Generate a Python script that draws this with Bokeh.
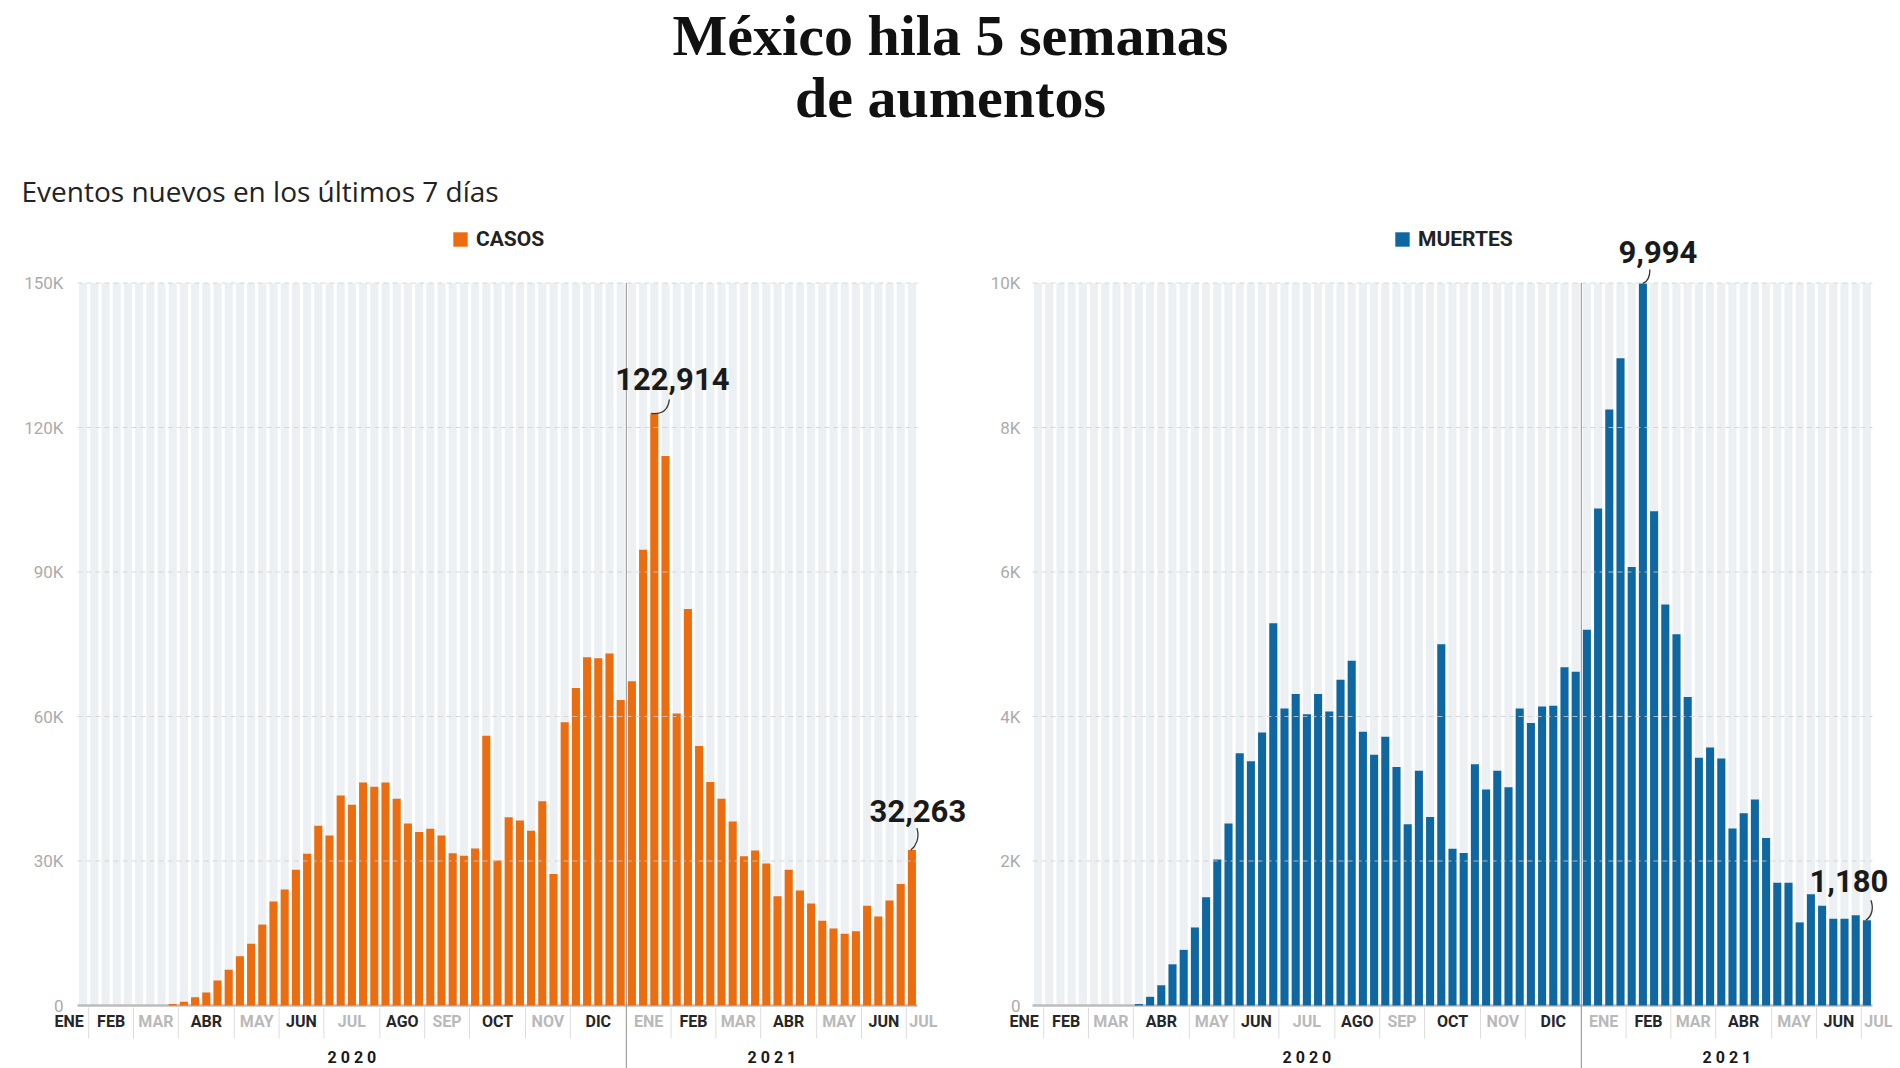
import numpy as np
from bokeh.plotting import figure
from bokeh.layouts import column, row
from bokeh.models import Range1d, LinearAxis, FixedTicker, Legend, LegendItem
from bokeh.core.properties import value
from bokeh.embed import file_html
from bokeh.resources import INLINE

# ---------------- data ----------------
title_lines = ["México hila 5 semanas", "de aumentos"]
subtitle = "Eventos nuevos en los últimos 7 días"

months_2020 = ["ENE", "FEB", "MAR", "ABR", "MAY", "JUN", "JUL", "AGO", "SEP", "OCT", "NOV", "DIC"]
weeks_2020 = [1, 4, 4, 5, 4, 4, 5, 4, 4, 5, 4, 5]
months_2021 = ["ENE", "FEB", "MAR", "ABR", "MAY", "JUN", "JUL"]
weeks_2021 = [4, 4, 4, 5, 4, 4, 1]
years = ["2020", "2021"]

casos = [0, 0, 0, 0, 0, 0, 0, 0, 300, 800, 1700, 2700, 5200, 7400, 10200, 12800,
         16800, 21600, 24100, 28200, 31500, 37300, 35300, 43600, 41700, 46300, 45400,
         46300, 42900, 37800, 36000, 36700, 35300, 31600, 31100, 32600, 56000, 30100,
         39100, 38400, 36300, 42400, 27300, 58800, 65900, 72300, 72100, 73100, 63400,
         67300, 94600, 122914, 114100, 60600, 82300, 53900, 46400, 42900, 38200, 31000,
         32200, 29500, 22700, 28200, 23900, 21200, 17600, 16000, 14900, 15400, 20700,
         18500, 21800, 25200, 32263]

muertes = [0, 0, 0, 0, 0, 0, 0, 0, 0, 20, 120, 280, 570, 770, 1080, 1500, 2020, 2520,
           3490, 3380, 3780, 5290, 4110, 4310, 4030, 4310, 4070, 4510, 4770, 3790, 3470,
           3720, 3300, 2510, 3250, 2610, 5000, 2170, 2110, 3340, 2990, 3250, 3020, 4110,
           3910, 4140, 4150, 4680, 4620, 5200, 6880, 8250, 8960, 6070, 9994, 6840, 5550,
           5140, 4270, 3430, 3570, 3420, 2450, 2660, 2850, 2320, 1700, 1700, 1150, 1540,
           1380, 1200, 1200, 1250, 1180]

casos_ticks = [0, 30000, 60000, 90000, 120000, 150000]
casos_tick_labels = ["0", "30K", "60K", "90K", "120K", "150K"]
muertes_ticks = [0, 2000, 4000, 6000, 8000, 10000]
muertes_tick_labels = ["0", "2K", "4K", "6K", "8K", "10K"]

# ---------------- layout constants (page pixels) ----------------
PAGE_W = 1900
HEAD_H = 215
CH_TOP = 215
CH_H = 853
CH_BOTTOM = CH_TOP + CH_H
Y0_PX = 1005.0
YTOP_PX = 282.5
WEEK_PX = 11.2
SEP_BOTTOM_PX = 1038
MONTH_LABEL_PX = 1021
YEAR_LABEL_TOP_PX = 1047
LEGEND_BOTTOM_PX = 251

FONT = "Roboto"
DARK = "#262626"
LIGHT = "#b9b9b9"
STRIPE = "#ECF0F3"


def make_chart(vals, ticks, tick_labels, color, fig_left, fig_w, frame_left, frame_right,
               x0_px, label_right_px, legend_label, legend_left_px, legend_standoff,
               peak_off, last_off, peak_leader, last_leader):
    vals = np.asarray(vals, dtype=float)
    n = len(vals)
    ymax = ticks[-1]
    ppu = (Y0_PX - YTOP_PX) / ymax
    y_start = -(CH_BOTTOM - Y0_PX) / ppu
    y_end = (Y0_PX - CH_TOP) / ppu
    x_start = (frame_left - x0_px) / WEEK_PX
    x_end = (frame_right - x0_px) / WEEK_PX

    def dy(px):
        return px / ppu

    def dx(px):
        return px / WEEK_PX

    def ypx(page_y):
        return (Y0_PX - page_y) / ppu

    p = figure(width=fig_w, height=CH_H, x_range=Range1d(x_start, x_end),
               y_range=Range1d(y_start, y_end), toolbar_location=None,
               output_backend="svg", x_axis_location=None, y_axis_location=None,
               min_border_left=frame_left - fig_left,
               min_border_right=fig_left + fig_w - frame_right,
               min_border_top=0, min_border_bottom=0, outline_line_color=None,
               background_fill_color="white", border_fill_color="white")
    p.grid.visible = False

    x = np.arange(n) + 0.5
    # background stripes
    p.vbar(x=x, top=ymax, bottom=0, width=0.72, fill_color=STRIPE, line_color=None)
    # baseline
    p.line([0, n], [0, 0], line_color="#bdbdbd", line_width=2.5)
    # bars
    bars = p.vbar(x=x, top=vals, bottom=0, width=0.72, fill_color=color, line_color=None)
    # dashed gridlines on top
    gl = ticks[1:]
    p.segment(x0=[0] * len(gl), x1=[n] * len(gl), y0=gl, y1=gl, line_color="#cfcfcf",
              line_dash="5 4", line_width=1.2, line_alpha=0.8)

    # month labels & separators
    labels = months_2020 + months_2021
    wks = weeks_2020 + weeks_2021
    edges = np.concatenate([[0], np.cumsum(wks)])
    year_edge = sum(weeks_2020)
    lab_x, lab_t, lab_c = [], [], []
    for k, (m, a, b) in enumerate(zip(labels, edges[:-1], edges[1:])):
        lab_x.append((a + b) / 2)
        lab_t.append(m)
        month_no = (k % 12) + 1 if k < 12 else (k - 12) + 1
        lab_c.append(DARK if (month_no % 2 == 0 or k == 0) else LIGHT)
    p.text(x=lab_x[1:-1], y=ypx(MONTH_LABEL_PX), text=lab_t[1:-1], text_color=lab_c[1:-1],
           text_font=value(FONT), text_font_style="bold", text_font_size="16px",
           text_align="center", text_baseline="middle")
    p.text(x=[edges[1] - dx(5)], y=ypx(MONTH_LABEL_PX), text=[lab_t[0]], text_color=lab_c[0],
           text_font=value(FONT), text_font_style="bold", text_font_size="16px",
           text_align="right", text_baseline="middle")
    p.text(x=[edges[-2] + dx(3)], y=ypx(MONTH_LABEL_PX), text=[lab_t[-1]], text_color=lab_c[-1],
           text_font=value(FONT), text_font_style="bold", text_font_size="16px",
           text_align="left", text_baseline="middle")
    seps = [e for e in edges[1:-1] if e != year_edge]
    p.segment(x0=seps, x1=seps, y0=[ypx(Y0_PX + 2)] * len(seps),
              y1=[ypx(SEP_BOTTOM_PX)] * len(seps), line_color="#dddddd", line_width=1)
    p.segment(x0=[year_edge], x1=[year_edge], y0=[ymax], y1=[y_start], line_color="#8c8c8c",
              line_width=1)
    # year labels
    yx = [year_edge / 2, (year_edge + n) / 2]
    p.text(x=yx, y=ypx(YEAR_LABEL_TOP_PX), text=[" ".join(list(yv)) for yv in years],
           text_font=value(FONT), text_font_style="bold", text_font_size="16px",
           text_color="#1a1a1a", text_align="center", text_baseline="top")

    # annotations
    ip = int(np.argmax(vals))
    il = n - 1
    for idx, off, ld in ((ip, peak_off, peak_leader), (il, last_off, last_leader)):
        bx = idx + 0.5
        by = vals[idx]
        p.text(x=[bx + dx(off[0])], y=[by + dy(off[1])], text=[f"{int(vals[idx]):,}"],
               text_font=value(FONT), text_font_size="31px", text_font_style="bold",
               text_color="#1a1a1a", text_align="center", text_baseline="middle")
        p.bezier(x0=[bx + dx(ld[0])], y0=[by + dy(ld[1])], cx0=[bx + dx(ld[2])],
                 cy0=[by + dy(ld[3])], cx1=[bx + dx(ld[4])], cy1=[by + dy(ld[5])],
                 x1=[bx + dx(ld[6])], y1=[by + dy(ld[7])], line_color="#333333",
                 line_width=1.3)

    # y axis (labels pulled into the frame margin so the narrow first month label fits)
    ax = LinearAxis(ticker=FixedTicker(ticks=ticks),
                    major_label_overrides={t: l for t, l in zip(ticks, tick_labels)},
                    axis_line_color=None, major_tick_line_color=None,
                    minor_tick_line_color=None, major_tick_out=0, major_tick_in=0,
                    major_label_standoff=int(frame_left - label_right_px),
                    major_label_text_color="#ababab", major_label_text_font=FONT,
                    major_label_text_font_size="17px")
    p.add_layout(ax, "left")

    # legend
    leg = Legend(items=[LegendItem(label=value(legend_label), renderers=[bars])],
                 location=(legend_left_px - frame_left, CH_BOTTOM - LEGEND_BOTTOM_PX),
                 orientation="horizontal", glyph_width=18, glyph_height=18,
                 label_height=18, label_standoff=legend_standoff, padding=0, margin=0,
                 border_line_color=None, background_fill_alpha=0,
                 label_text_font=FONT, label_text_font_size="21px",
                 label_text_font_style="bold", label_text_color="#222222")
    p.add_layout(leg)
    return p


left = make_chart(casos, casos_ticks, casos_tick_labels, "#EB6D0F", fig_left=0, fig_w=980,
                  frame_left=48, frame_right=975, x0_px=77, label_right_px=63,
                  legend_label="CASOS", legend_left_px=451, legend_standoff=7,
                  peak_off=(18, 34.5), last_off=(6, 39),
                  peak_leader=(-3, 0, 8, -1, 14, 4, 15, 14),
                  last_leader=(-1, 0, 4, 4, 8, 12, 5, 22))

right = make_chart(muertes, muertes_ticks, muertes_tick_labels, "#0E67A1", fig_left=980,
                   fig_w=920, frame_left=1003, frame_right=1900, x0_px=1032,
                   label_right_px=1020, legend_label="MUERTES", legend_left_px=1393,
                   legend_standoff=7, peak_off=(15, 31), last_off=(-18, 39.7),
                   peak_leader=(0, 0, 5, 2, 7, 6, 7, 14),
                   last_leader=(-1, 0, 5, 4, 7, 12, 4, 20))

# header
head = figure(width=PAGE_W, height=HEAD_H, x_range=Range1d(0, PAGE_W),
              y_range=Range1d(0, HEAD_H), toolbar_location=None, output_backend="svg",
              x_axis_location=None, y_axis_location=None, min_border=0,
              outline_line_color=None)
head.grid.visible = False
head.text(x=[950, 950], y=[HEAD_H - 2, HEAD_H - 64], text=title_lines,
          text_font=value("Liberation Serif"), text_font_style="bold", text_font_size="58px",
          text_color="#111111", text_align="center", text_baseline="top")
head.text(x=[21], y=[HEAD_H - 190], text=[subtitle], text_font=value("Open Sans"),
          text_font_size="28px", text_color="#222222", text_align="left",
          text_baseline="alphabetic")

layout = column(head, row(left, right, spacing=0), spacing=0)

open("out.html", "w").write(file_html(layout, INLINE))
